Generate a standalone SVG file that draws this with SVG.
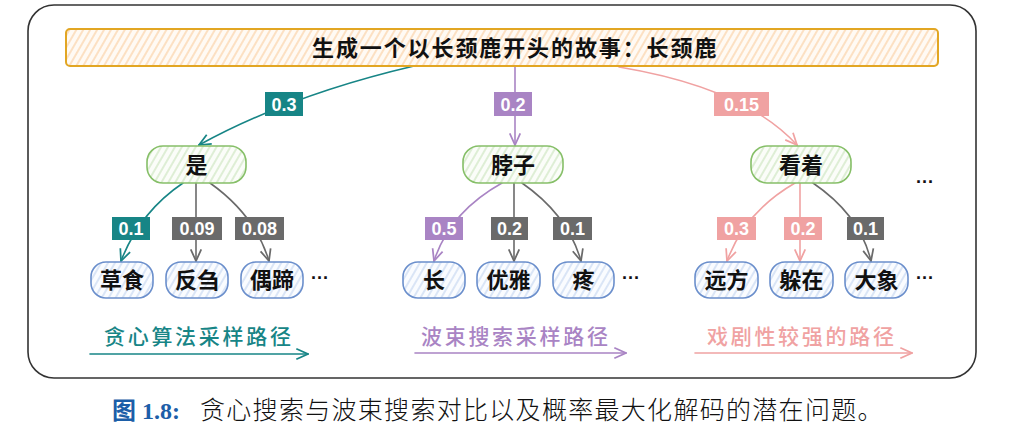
<svg xmlns="http://www.w3.org/2000/svg" width="1016" height="440" viewBox="0 0 1016 440">
<style>
.cjk{font-family:"Noto Sans CJK SC",sans-serif;}
.node{font-family:"Noto Sans CJK SC",sans-serif;font-size:22px;font-weight:700;fill:#111;text-anchor:middle;}
.lbl{font-family:"Liberation Sans",Arial,sans-serif;font-size:18px;font-weight:700;fill:#fff;text-anchor:middle;}
.dots{font-family:"Liberation Sans",sans-serif;font-size:18px;font-weight:700;fill:#111;}
.e{fill:none;stroke-width:1.6;stroke-linecap:round;}
.teal{stroke:#178586;}
.pur{stroke:#a984c4;}
.sal{stroke:#f0a2a2;}
.gray{stroke:#6a6a6a;}
.gnode{fill:url(#hg);stroke:#86bf68;stroke-width:1.6;}
.bnode{fill:url(#hb);stroke:#6b8fcc;stroke-width:1.6;}
.path{font-family:"Noto Sans CJK SC",sans-serif;font-size:21px;font-weight:500;letter-spacing:2.7px;}
</style>
<defs>
<pattern id="ho" width="6" height="6" patternUnits="userSpaceOnUse" patternTransform="rotate(30)"><rect width="6" height="6" fill="#fffaf4"/><line x1="3" y1="0" x2="3" y2="6" stroke="#fbd3a8" stroke-width="1.3"/></pattern>
<pattern id="hg" width="6" height="6" patternUnits="userSpaceOnUse" patternTransform="rotate(30)"><rect width="6" height="6" fill="#fbfdf9"/><line x1="3" y1="0" x2="3" y2="6" stroke="#cfe6c2" stroke-width="1.3"/></pattern>
<pattern id="hb" width="6" height="6" patternUnits="userSpaceOnUse" patternTransform="rotate(30)"><rect width="6" height="6" fill="#fafcff"/><line x1="3" y1="0" x2="3" y2="6" stroke="#c9d9f2" stroke-width="1.3"/></pattern>
<marker id="aT" markerUnits="userSpaceOnUse" markerWidth="14" markerHeight="14" viewBox="0 0 12 12" refX="11" refY="6" orient="auto"><path d="M1,1.5 L11,6 L1,10.5" fill="none" stroke="#178586" stroke-width="1.5"/></marker>
<marker id="aP" markerUnits="userSpaceOnUse" markerWidth="14" markerHeight="14" viewBox="0 0 12 12" refX="11" refY="6" orient="auto"><path d="M1,1.5 L11,6 L1,10.5" fill="none" stroke="#a984c4" stroke-width="1.5"/></marker>
<marker id="aS" markerUnits="userSpaceOnUse" markerWidth="14" markerHeight="14" viewBox="0 0 12 12" refX="11" refY="6" orient="auto"><path d="M1,1.5 L11,6 L1,10.5" fill="none" stroke="#f0a2a2" stroke-width="1.5"/></marker>
<marker id="aG" markerUnits="userSpaceOnUse" markerWidth="14" markerHeight="14" viewBox="0 0 12 12" refX="11" refY="6" orient="auto"><path d="M1,1.5 L11,6 L1,10.5" fill="none" stroke="#6a6a6a" stroke-width="1.5"/></marker>
</defs>
<rect width="1016" height="440" fill="#fff"/>
<rect id="frame" x="28" y="5" width="948" height="373" rx="26" fill="none" stroke="#333" stroke-width="1.6"/>

<g id="connectors">
<path class="e teal" d="M414,66 Q290,95 199,145" marker-end="url(#aT)"/>
<path class="e pur" d="M515,66 L515,145" marker-end="url(#aP)"/>
<path class="e sal" d="M619,67 Q745,88 797,145" marker-end="url(#aS)"/>
<path class="e teal" d="M183,183 Q140,212 121,261" marker-end="url(#aT)"/>
<path class="e gray" d="M196,183 L196,261" marker-end="url(#aG)"/>
<path class="e gray" d="M210,183 Q255,215 269,261" marker-end="url(#aG)"/>
<path class="e pur" d="M502,183 Q450,212 434,261" marker-end="url(#aP)"/>
<path class="e gray" d="M514,183 L514,261" marker-end="url(#aG)"/>
<path class="e gray" d="M522,183 Q568,215 581,261" marker-end="url(#aG)"/>
<path class="e sal" d="M795,183 Q745,212 727,261" marker-end="url(#aS)"/>
<path class="e sal" d="M800,183 L800,261" marker-end="url(#aS)"/>
<path class="e gray" d="M813,183 Q860,215 871,261" marker-end="url(#aG)"/>
<path class="e teal" d="M90,354 L308,354" marker-end="url(#aT)"/>
<path class="e pur" d="M415,353 L626,353" marker-end="url(#aP)"/>
<path class="e sal" d="M695,353 L912,353" marker-end="url(#aS)"/>
</g>

<g id="edge-labels">
<rect x="265" y="92" width="38" height="24" fill="#178586"/><text class="lbl" x="284" y="110.5">0.3</text>
<rect x="494" y="92" width="38" height="24" fill="#a984c4"/><text class="lbl" x="513" y="110.5">0.2</text>
<rect x="714" y="92" width="55" height="24" fill="#f0a2a2"/><text class="lbl" x="741.5" y="110.5">0.15</text>
<rect x="112" y="217" width="38" height="23" fill="#178586"/><text class="lbl" x="131" y="235">0.1</text>
<rect x="172" y="217" width="50" height="23" fill="#6a6a6a"/><text class="lbl" x="197" y="235">0.09</text>
<rect x="235" y="217" width="49" height="23" fill="#6a6a6a"/><text class="lbl" x="259.5" y="235">0.08</text>
<rect x="425" y="217" width="38" height="23" fill="#a984c4"/><text class="lbl" x="444" y="235">0.5</text>
<rect x="491" y="217" width="37" height="23" fill="#6a6a6a"/><text class="lbl" x="509.5" y="235">0.2</text>
<rect x="553" y="217" width="39" height="23" fill="#6a6a6a"/><text class="lbl" x="572.5" y="235">0.1</text>
<rect x="717" y="217" width="39" height="23" fill="#f0a2a2"/><text class="lbl" x="736.5" y="235">0.3</text>
<rect x="784" y="217" width="38" height="23" fill="#f0a2a2"/><text class="lbl" x="803" y="235">0.2</text>
<rect x="847" y="217" width="37" height="23" fill="#6a6a6a"/><text class="lbl" x="865.5" y="235">0.1</text>
</g>

<g id="prompt">
<rect x="66" y="29" width="872" height="37" rx="4" fill="url(#ho)" stroke="#e2a623" stroke-width="2"/>
<text class="cjk" x="312" y="56" font-size="22" font-weight="700" letter-spacing="1.9" fill="#111">生成一个以长颈鹿开头的故事：长颈鹿</text>
</g>

<g id="n-shi"><rect class="gnode" x="147" y="146" width="99" height="37" rx="16"/><text class="node" x="196.5" y="172.5">是</text></g>
<g id="n-bozi"><rect class="gnode" x="463" y="146" width="100" height="37" rx="16"/><text class="node" x="513" y="172.5">脖子</text></g>
<g id="n-kanzhe"><rect class="gnode" x="751" y="146" width="100" height="37" rx="16"/><text class="node" x="801" y="172.5">看着</text></g>
<text class="dots" x="916" y="188">···</text>

<g id="l-caoshi"><rect class="bnode" x="91" y="262" width="62" height="36" rx="15"/><text class="node" x="122" y="288">草食</text></g>
<g id="l-fanchu"><rect class="bnode" x="166" y="262" width="62" height="36" rx="15"/><text class="node" x="197" y="288">反刍</text></g>
<g id="l-outi"><rect class="bnode" x="241" y="262" width="62" height="36" rx="15"/><text class="node" x="272" y="288">偶蹄</text></g>
<text class="dots" x="311" y="284">···</text>
<g id="l-chang"><rect class="bnode" x="403" y="262" width="62" height="36" rx="15"/><text class="node" x="434" y="288">长</text></g>
<g id="l-youya"><rect class="bnode" x="477" y="262" width="63" height="36" rx="15"/><text class="node" x="508.5" y="288">优雅</text></g>
<g id="l-teng"><rect class="bnode" x="553" y="262" width="61" height="36" rx="15"/><text class="node" x="583.5" y="288">疼</text></g>
<text class="dots" x="622" y="284">···</text>
<g id="l-yuanfang"><rect class="bnode" x="695" y="262" width="63" height="36" rx="15"/><text class="node" x="726.5" y="288">远方</text></g>
<g id="l-duozai"><rect class="bnode" x="770" y="262" width="63" height="36" rx="15"/><text class="node" x="801.5" y="288">躲在</text></g>
<g id="l-daxiang"><rect class="bnode" x="845" y="262" width="63" height="36" rx="15"/><text class="node" x="876.5" y="288">大象</text></g>
<text class="dots" x="916" y="284">···</text>

<g id="path-labels">
<text class="path" x="104" y="344" fill="#178586">贪心算法采样路径</text>
<text class="path" x="421" y="344" fill="#a984c4">波束搜索采样路径</text>
<text class="path" x="707" y="344" fill="#f0a2a2">戏剧性较强的路径</text>
</g>

<text id="caption" x="112" y="419" font-family="'Liberation Serif','Noto Sans CJK SC',serif" font-size="25"><tspan fill="#1c5ea8" font-weight="700" font-size="24">图 1.8:</tspan><tspan fill="#111" x="200" letter-spacing="1.3" font-weight="300">贪心搜索与波束搜索对比以及概率最大化解码的潜在问题。</tspan></text>
</svg>
